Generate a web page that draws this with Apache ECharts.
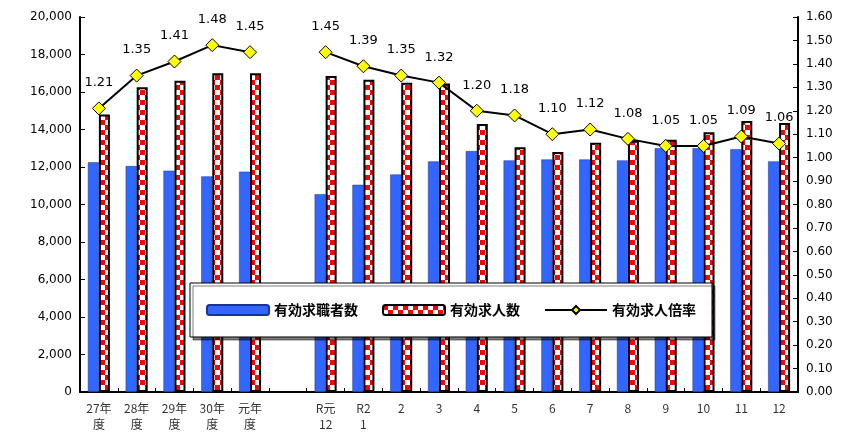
<!DOCTYPE html>
<html><head><meta charset="utf-8">
<script src="https://cdn.jsdelivr.net/npm/echarts@6/dist/echarts.min.js"></script>
<style>html,body{margin:0;background:#fff}#c{width:856px;height:432px}</style>
</head><body><div id="c"></div>
<script>
const categories = ['27年\n度', '28年\n度', '29年\n度', '30年\n度', '元年\n度', '', 'R元\n12', 'R2\n1', '2', '3', '4', '5', '6', '7', '8', '9', '10', '11', '12'];
const seekers = [12250, 12050, 11800, 11500, 11750, null, 10550, 11050, 11600, 12300, 12850, 12350, 12400, 12400, 12350, 13000, 13000, 12950, 12300];
const openings = [14800, 16250, 16600, 17000, 17000, null, 16850, 16650, 16500, 16450, 14300, 13050, 12800, 13300, 13400, 13450, 13850, 14450, 14350];
const ratio = [1.21, 1.35, 1.41, 1.48, 1.45, null, 1.45, 1.39, 1.35, 1.32, 1.20, 1.18, 1.10, 1.12, 1.08, 1.05, 1.05, 1.09, 1.06];

const pat = document.createElement('canvas');
pat.width = 10; pat.height = 10;
const g = pat.getContext('2d');
g.fillStyle = '#fff'; g.fillRect(0, 0, 10, 10);
g.fillStyle = '#ff0000'; g.fillRect(0, 0, 5, 5); g.fillRect(5, 5, 5, 5);

const font = 'DejaVu Sans';
const chart = echarts.init(document.getElementById('c'));
chart.setOption({
    animation: false,
    textStyle: { fontFamily: font },
    grid: { left: 80, right: 58, top: 17, bottom: 36 },
    legend: {
        left: 190, top: 283, width: 520, height: 50,
        padding: [20, 16], itemGap: 24,
        backgroundColor: '#fff', borderColor: '#000', borderWidth: 1,
        shadowColor: 'rgba(0,0,0,0.5)', shadowOffsetX: 3, shadowOffsetY: 3, shadowBlur: 0,
        itemWidth: 62, itemHeight: 10,
        textStyle: { fontSize: 14, fontWeight: 'bold', color: '#000', fontFamily: 'Noto Sans CJK JP' },
        data: ['有効求職者数', '有効求人数', '有効求人倍率']
    },
    xAxis: {
        type: 'category', data: categories,
        axisLine: { lineStyle: { color: '#000', width: 2 } },
        axisTick: { show: true, inside: true, length: 4, lineStyle: { color: '#000' } },
        axisLabel: { color: '#333', fontSize: 12, lineHeight: 16, interval: 0, fontFamily: 'Noto Sans CJK JP' }
    },
    yAxis: [{
        type: 'value', min: 0, max: 20000, interval: 2000,
        axisLine: { show: true, lineStyle: { color: '#000', width: 2 } },
        axisTick: { show: true, inside: true, lineStyle: { color: '#000' } },
        splitLine: { show: false },
        axisLabel: { color: '#000', fontSize: 12, formatter: v => v.toLocaleString('en-US') }
    }, {
        type: 'value', min: 0, max: 1.6, interval: 0.1,
        axisLine: { show: true, lineStyle: { color: '#000', width: 2 } },
        axisTick: { show: true, inside: true, lineStyle: { color: '#000' } },
        splitLine: { show: false },
        axisLabel: { color: '#000', fontSize: 12, formatter: v => v.toFixed(2) }
    }],
    series: [{
        name: '有効求職者数', type: 'bar', data: seekers, barWidth: 11, barGap: '0%',
        itemStyle: { color: '#3366ff', borderColor: '#1a3399', borderWidth: 0.5 }
    }, {
        name: '有効求人数', type: 'bar', data: openings, barWidth: 11,
        itemStyle: { color: { image: pat, repeat: 'repeat' }, borderColor: '#000', borderWidth: 2 }
    }, {
        name: '有効求人倍率', type: 'line', yAxisIndex: 1, data: ratio,
        symbol: 'diamond', symbolSize: 13, connectNulls: false,
        lineStyle: { color: '#000', width: 2 },
        itemStyle: { color: '#ffff00', borderColor: '#000', borderWidth: 1 },
        label: { show: true, position: 'top', distance: 12, fontSize: 13, color: '#000', formatter: p => p.value.toFixed(2) }
    }]
});
</script></body></html>
